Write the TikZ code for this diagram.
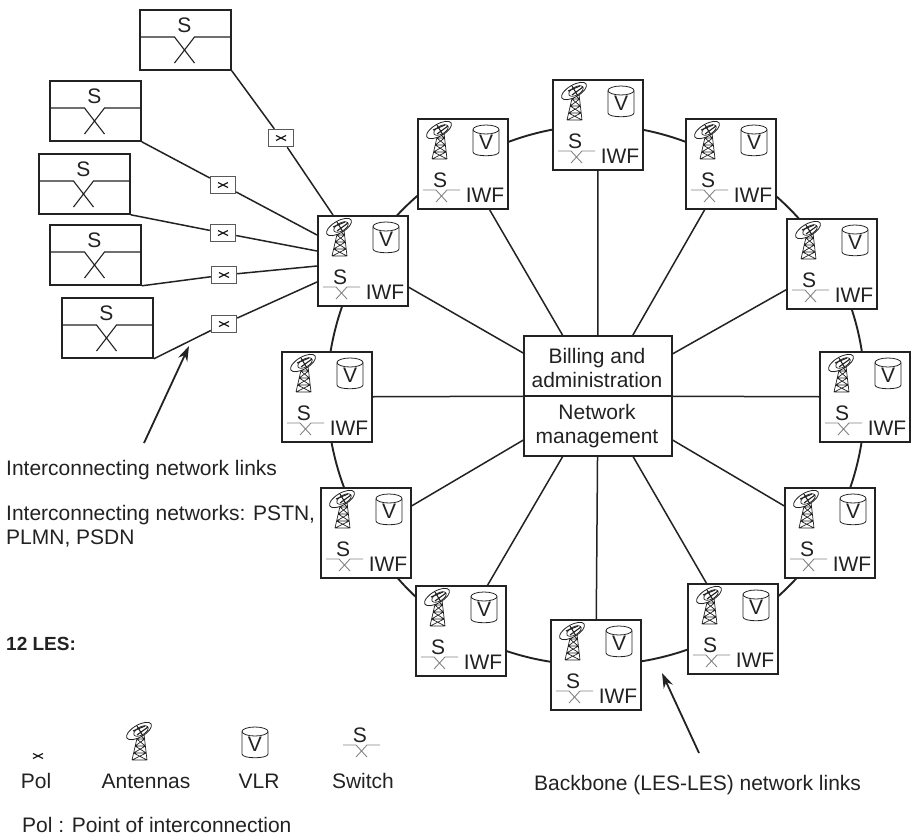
\documentclass[tikz,border=0pt]{standalone}
\usepackage{fontspec}
\setmainfont{Liberation Sans}
\usetikzlibrary{backgrounds,arrows.meta}
\definecolor{ink}{HTML}{222222}
\tikzset{
  txt/.style={font=\fontsize{21}{24.5}\selectfont,text=ink,inner sep=0pt},
  lesbox/.style={draw=ink,line width=1.8pt,fill=white,minimum width=90pt,minimum height=90pt,inner sep=0pt,anchor=north west},
  sbox/.style={draw=ink,line width=1.8pt,fill=white,minimum width=91pt,minimum height=60pt,inner sep=0pt,anchor=north west},
  poibox/.style={draw=ink!75,line width=1.4pt,fill=white,minimum width=25pt,minimum height=17pt,inner sep=0pt},
  centrebox/.style={draw=ink,line width=1.5pt,fill=white,minimum width=148pt,minimum height=120pt,inner sep=0pt},
  ring/.style={draw=ink,line width=1.9pt,bend left=15,looseness=0.87},
  spoke/.style={draw=ink,line width=1.5pt},
  link/.style={draw=ink,line width=1.5pt},
  callout/.style={draw=ink,line width=1.8pt,-{Stealth[length=15pt,width=10pt]}},
  pics/tower/.style={code={
    \draw[ink,line width=0.7pt] (15,41)--(21,15) (30,41)--(27,15) (15,41)--(30,41)
      (15,41)--(29.2,34) (30,41)--(16.6,34) (16.6,34)--(29.2,34)
      (16.6,34)--(28.4,27) (29.2,34)--(18.2,27) (18.2,27)--(28.4,27)
      (18.2,27)--(27.6,20) (28.4,27)--(19.8,20) (19.8,20)--(27.6,20)
      (19.8,20)--(27,15) (27.6,20)--(21,15);
    \draw[ink,line width=0.8pt,fill=white] (22,12) ellipse [x radius=14,y radius=6,rotate=30];
    \draw[ink,line width=0.7pt] (24,12) ellipse [x radius=8,y radius=4,rotate=30];
    \draw[ink,line width=1.1pt] (20,7)--(26,17) (16,12)--(28,7) (20,16)--(31,8);
  }},
  pics/vlr/.style={code={
    \draw[ink,line width=0.8pt] (56,12)--(56,34) .. controls (56,39) and (82,39) .. (82,34)--(82,12);
    \draw[ink,line width=0.8pt] (69,11.5) ellipse [x radius=13,y radius=4.5];
    \node[txt] (-v) at (69,24) {V};
  }},
  pics/smallswitch/.style={code={
    \node[txt] (-s) at (23,62) {S};
    \draw[ink!55,line width=0.9pt] (6,72)--(19,72)--(30,84) (43,72)--(30,72)--(19,84);
  }},
  pics/bigswitch/.style={code={
    \node[txt] (-s) at (45.5,16) {S};
    \draw[ink,line width=1.1pt] (0,28)--(35.5,28)--(55.5,54) (91,28)--(55.5,28)--(35.5,54);
  }},
  pics/poimark/.style={code={
    \draw[ink,line width=1.2pt] (-5,-2.5)--(5,2.5) (-5,2.5)--(5,-2.5);
  }},
}
\newcommand{\lesnode}[3]{%
  \node[lesbox] (#1) at (#2,#3) {};
  \pic (#1t) at (#1.north west) {tower};
  \pic (#1v) at (#1.north west) {vlr};
  \pic (#1s) at (#1.north west) {smallswitch};
  \node[txt] (#1w) at ([xshift=68pt,yshift=-77pt]#1.north west) {IWF};
}
\newcommand{\swnode}[3]{%
  \node[sbox] (#1) at (#2,#3) {};
  \pic (#1x) at (#1.north west) {bigswitch};
}
\newcommand{\poinode}[3]{%
  \node[poibox] (#1) at (#2,#3) {};
  \pic (#1x) at (#1.center) {poimark};
}
\begin{document}
\begin{tikzpicture}[x=1pt,y=-1pt]
\useasboundingbox (0,0) rectangle (916,836);
\lesnode{A}{552}{79}
\lesnode{C}{685}{118}
\lesnode{D}{786}{218}
\lesnode{E}{819}{351}
\lesnode{F}{784}{487}
\lesnode{G}{687}{583}
\lesnode{K}{550}{619}
\lesnode{J}{415}{585}
\lesnode{I}{320}{487}
\lesnode{H}{281}{351}
\lesnode{M}{317}{215}
\lesnode{B}{417}{118}
\node[centrebox] (Z) at (598,396) {};
\node[txt,align=center] (Z1) at (597,368) {Billing and\\administration};
\node[txt,align=center] (Z2) at (597,426) {Network\\management};
\swnode{S1}{139}{9}
\swnode{S2}{49}{80}
\swnode{S3}{38}{153}
\swnode{S4}{49}{224}
\swnode{S5}{61}{297}
\poinode{P1}{281}{138}
\poinode{P2}{223}{185}
\poinode{P3}{223}{233}
\poinode{P4}{224}{275}
\poinode{P5}{224}{324}
\coordinate (m1) at (333,215);
\coordinate (m2) at (317,235);
\coordinate (m3) at (317,251);
\coordinate (m4) at (317,266);
\coordinate (m5) at (317,282);
\begin{scope}[on background layer]
  \draw[ring] (A.center) to (C.center);
  \draw[ring] (C.center) to (D.center);
  \draw[ring] (D.center) to (E.center);
  \draw[ring] (E.center) to (F.center);
  \draw[ring] (F.center) to (G.center);
  \draw[ring] (G.center) to (K.center);
  \draw[ring] (K.center) to (J.center);
  \draw[ring] (J.center) to (I.center);
  \draw[ring] (I.center) to (H.center);
  \draw[ring] (H.center) to (M.center);
  \draw[ring] (M.center) to (B.center);
  \draw[ring] (B.center) to (A.center);
  \foreach \n in {A,B,C,D,E,F,G,H,I,J,K,M} \draw[spoke] (Z.center) -- (\n.center);
\end{scope}
\draw[link] (Z.west) -- (Z.east);
\draw[link] (S1.south east) -- (P1) -- (m1);
\draw[link] (S2.south east) -- (P2) -- (m2);
\draw[link] (S3.south east) -- (P3) -- (m3);
\draw[link] (S4.south east) -- (P4) -- (m4);
\draw[link] (S5.south east) -- (P5) -- (m5);
% labels
\node[txt,anchor=base west] (L1) at (6,475) {Interconnecting network links};
\node[txt,anchor=base west] (L2) at (6,520) {Interconnecting networks: PSTN,};
\node[txt,anchor=base west] (L3) at (6,544) {PLMN, PSDN};
\node[txt,anchor=base west,font=\fontsize{19}{22}\selectfont\bfseries] (L4) at (6,650) {12 LES:};
\node[txt] (L5) at (36,788) [anchor=base] {Pol};
\node[txt] (L6) at (146,788) [anchor=base] {Antennas};
\node[txt] (L7) at (259,788) [anchor=base] {VLR};
\node[txt] (L8) at (363,788) [anchor=base] {Switch};
\node[txt,anchor=base west] (L9) at (534,790) {Backbone (LES-LES) network links};
\node[txt,anchor=base west] (L10) at (22,832) {Pol : Point of interconnection};
% legend icons
\pic (lg1) at (38,756) {poimark};
\pic (lg2) at (117,719) {tower};
\pic (lg3) at (186,720) {vlr};
\pic (lg4) at (337,673) {smallswitch};
% callouts
\coordinate (a1s) at (144,443);
\coordinate (a1e) at (189,346);
\coordinate (a2s) at (699,753);
\coordinate (a2e) at (662,673);
\draw[callout] (a1s) -- (a1e);
\draw[callout] (a2s) -- (a2e);
\end{tikzpicture}
\end{document}
